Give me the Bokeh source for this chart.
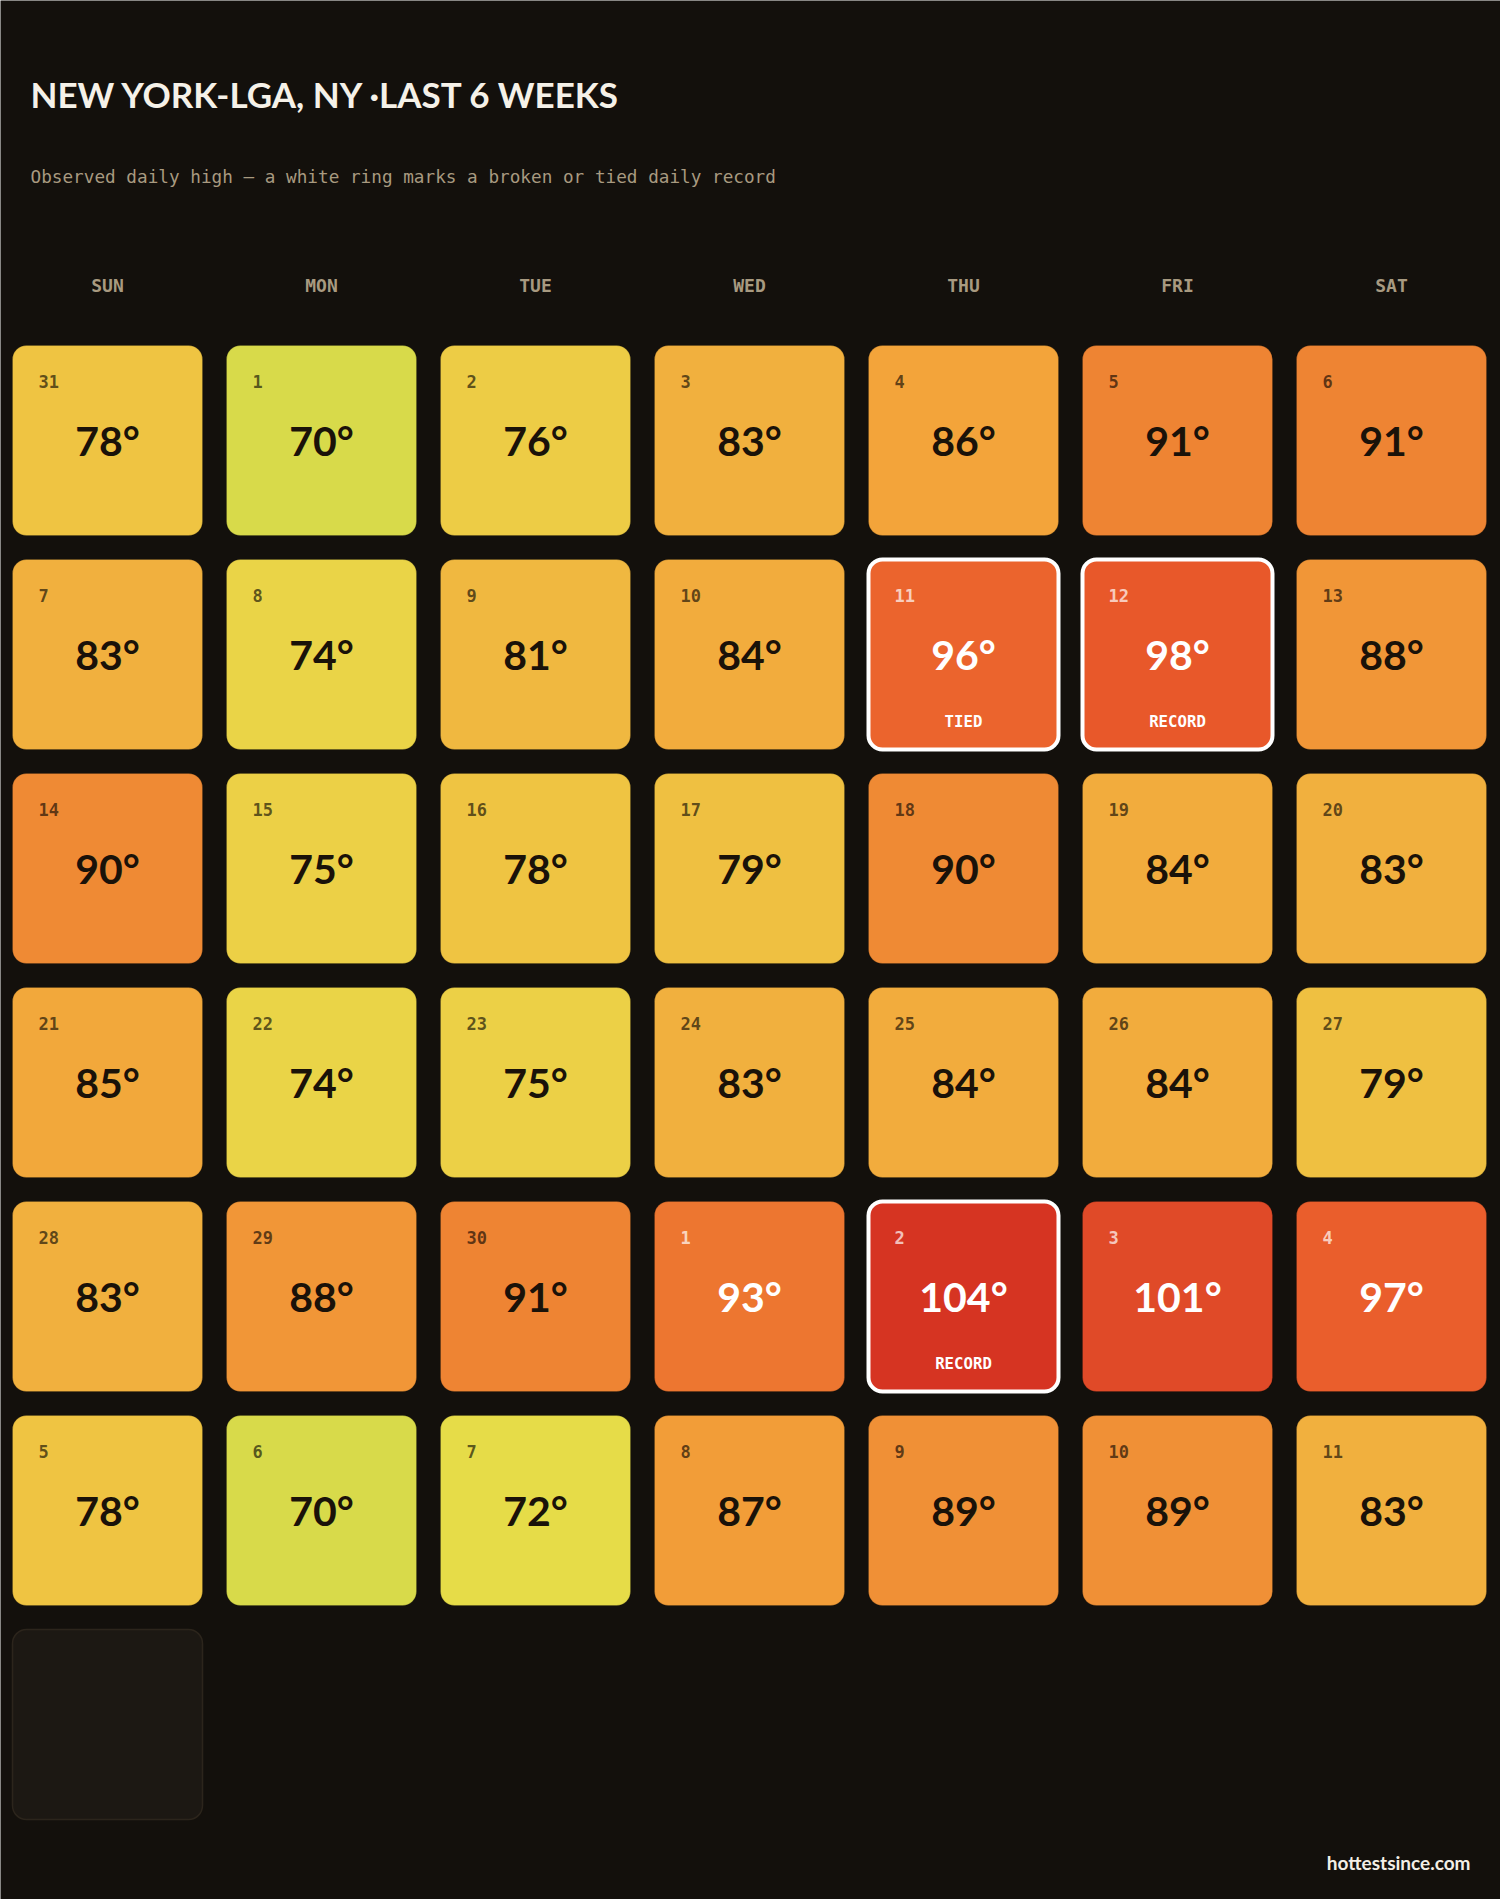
from bokeh.plotting import figure
from bokeh.models import ColumnDataSource, Range1d
from bokeh.core.properties import value
from bokeh.embed import file_html
from bokeh.resources import INLINE

# ---------------- data ----------------
title_text = "NEW YORK-LGA, NY ·LAST 6 WEEKS"
subtitle_text = "Observed daily high — a white ring marks a broken or tied daily record"
footer_text = "hottestsince.com"
weekdays = ["SUN", "MON", "TUE", "WED", "THU", "FRI", "SAT"]

day_numbers = [31, 1, 2, 3, 4, 5, 6,
               7, 8, 9, 10, 11, 12, 13,
               14, 15, 16, 17, 18, 19, 20,
               21, 22, 23, 24, 25, 26, 27,
               28, 29, 30, 1, 2, 3, 4,
               5, 6, 7, 8, 9, 10, 11]
daily_highs = [78, 70, 76, 83, 86, 91, 91,
               83, 74, 81, 84, 96, 98, 88,
               90, 75, 78, 79, 90, 84, 83,
               85, 74, 75, 83, 84, 84, 79,
               83, 88, 91, 93, 104, 101, 97,
               78, 70, 72, 87, 89, 89, 83]
# grid index -> record status
record_status = {11: "TIED", 12: "RECORD", 32: "RECORD"}
empty_cells = [42]

# ---------------- style ----------------
BG = "#13100c"
color_stops = [(70, (216, 218, 74)), (72, (230, 220, 72)), (75, (236, 208, 70)),
               (78, (239, 196, 66)), (83, (241, 176, 62)), (86, (243, 164, 58)),
               (88, (241, 150, 55)), (91, (238, 132, 51)), (93, (237, 118, 48)),
               (96, (235, 100, 45)), (98, (232, 88, 42)), (101, (224, 74, 40)),
               (104, (214, 52, 34))]


def temp_color(t):
    if t <= color_stops[0][0]:
        c = color_stops[0][1]
    elif t >= color_stops[-1][0]:
        c = color_stops[-1][1]
    else:
        for (t0, c0), (t1, c1) in zip(color_stops[:-1], color_stops[1:]):
            if t0 <= t <= t1:
                f = (t - t0) / (t1 - t0)
                c = tuple(round(a + (b - a) * f) for a, b in zip(c0, c1))
                break
    return "#%02x%02x%02x" % c


X0, Y0, PITCH, SIZE = 12, 345, 214, 190


def cell_box(i):
    col, row = i % 7, i // 7
    left = X0 + col * PITCH
    top = Y0 + row * PITCH
    return left, left + SIZE, top, top + SIZE


W, H = 1500, 1899
p = figure(width=W, height=H, x_range=Range1d(0, W), y_range=Range1d(H, 0),
           output_backend="svg", toolbar_location=None, min_border=0)
p.axis.visible = False
p.grid.visible = False
p.outline_line_color = None
p.background_fill_color = BG
p.border_fill_color = BG

# cells
L, R, T, B, fills, lcol, lw, lalpha = [], [], [], [], [], [], [], []
for i, t in enumerate(daily_highs):
    l, r, tp, bt = cell_box(i)
    L.append(l); R.append(r); T.append(tp); B.append(bt)
    fills.append(temp_color(t))
    if i in record_status:
        lcol.append("#ffffff"); lw.append(4); lalpha.append(1.0)
    else:
        lcol.append("#000000"); lw.append(1); lalpha.append(0.15)
cells = ColumnDataSource(dict(left=L, right=R, top=T, bottom=B, fill=fills,
                              lc=lcol, lw=lw, la=lalpha))
p.quad(left="left", right="right", top="top", bottom="bottom", source=cells,
       fill_color="fill", line_color="lc", line_width="lw", line_alpha="la",
       border_radius=14)

# empty cells
eL, eR, eT, eB = [], [], [], []
for i in empty_cells:
    l, r, tp, bt = cell_box(i)
    eL.append(l); eR.append(r); eT.append(tp); eB.append(bt)
p.quad(left=eL, right=eR, top=eT, bottom=eB, fill_color="#1c1813",
       line_color="#2c251c", line_width=1.5, border_radius=14)

# texts inside cells
nx, ny, ntxt, ncol, nalpha = [], [], [], [], []
tx, ty, ttxt, tcol = [], [], [], []
rx, ry, rtxt = [], [], []
for i, (d, t) in enumerate(zip(day_numbers, daily_highs)):
    l, r, tp, bt = cell_box(i)
    hot = t >= 93 or i in record_status
    nx.append(l + 26); ny.append(tp + 36); ntxt.append(str(d))
    ncol.append("#ffffff" if hot else "#000000")
    nalpha.append(0.7 if hot else 0.62)
    tx.append((l + r) / 2); ty.append(tp + 95); ttxt.append(f"{t}°")
    tcol.append("#ffffff" if hot else "#1a1209")
    if i in record_status:
        rx.append((l + r) / 2); ry.append(tp + 162); rtxt.append(record_status[i])

p.text(x=nx, y=ny, text=ntxt, text_color=ncol, text_alpha=nalpha,
       text_font=value("DejaVu Sans Mono"), text_font_style="bold",
       text_font_size="17px", text_align="left", text_baseline="middle")
p.text(x=tx, y=ty, text=ttxt, text_color=tcol,
       text_font=value("Lato"), text_font_style="bold",
       text_font_size="41px", text_align="center", text_baseline="middle")
p.text(x=rx, y=ry, text=rtxt, text_color="#ffffff",
       text_font=value("DejaVu Sans Mono"), text_font_style="bold",
       text_font_size="15.7px", text_align="center", text_baseline="middle")

# weekday header
hx = [X0 + SIZE / 2 + k * PITCH for k in range(7)]
p.text(x=hx, y=[285] * 7, text=weekdays, text_color="#a89a80",
       text_font=value("DejaVu Sans Mono"), text_font_style="bold",
       text_font_size="18px", text_align="center", text_baseline="middle")

# title, subtitle, footer
p.text(x=[30], y=[93], text=[title_text], text_color="#f5f1e8",
       text_font=value("Lato"), text_font_style="bold",
       text_font_size="35px", text_align="left", text_baseline="middle")
p.text(x=[30], y=[176], text=[subtitle_text], text_color="#a89a80",
       text_font=value("DejaVu Sans Mono"),
       text_font_size="17.7px", text_align="left", text_baseline="middle")
p.text(x=[1470], y=[1862], text=[footer_text], text_color="#f2eee6",
       text_font=value("Lato"), text_font_style="bold",
       text_font_size="19px", text_align="right", text_baseline="middle")

open("out.html", "w").write(file_html(p, INLINE))
